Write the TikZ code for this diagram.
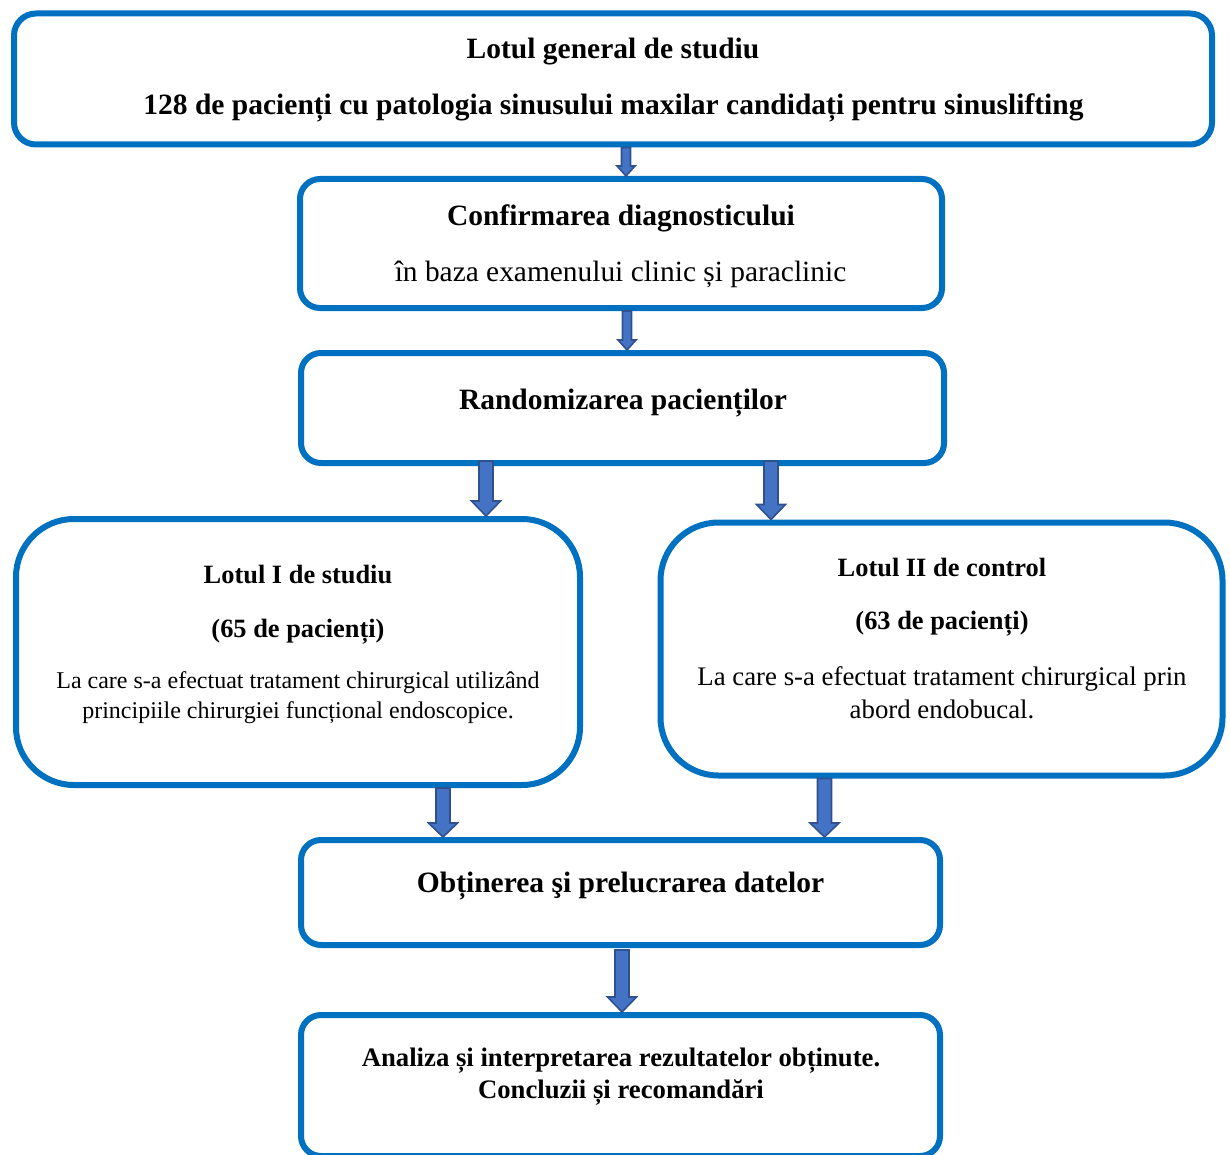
\documentclass[tikz,border=0pt]{standalone}
\usepackage{fontspec}
\setmainfont{Liberation Serif}
\usetikzlibrary{calc}
\definecolor{boxblue}{HTML}{0070C0}
\definecolor{arrfill}{HTML}{4472C4}
\definecolor{arredge}{HTML}{2F528F}
% block arrow: #1 start, #2 end (only y used), #3 shaft half width, #4 head half width, #5 head length
\newcommand\blockarrow[5]{%
  \path[barrow] let \p1=(#1), \p2=(#2) in
   (\x1-#3pt,\y1) -- (\x1+#3pt,\y1) -- (\x1+#3pt,\y2+#5pt) -- (\x1+#4pt,\y2+#5pt)
   -- (\x1,\y2) -- (\x1-#4pt,\y2+#5pt) -- (\x1-#3pt,\y2+#5pt) -- cycle;}
\begin{document}
\begin{tikzpicture}[x=1pt,y=-1pt,
  box/.style={draw=boxblue, line width=6pt, fill=white, inner sep=0pt},
  barrow/.style={fill=arrfill, draw=arredge, line width=1.6pt, line join=miter},
  tb/.style={anchor=base, inner sep=0pt, font=\fontsize{29.5}{34}\selectfont\bfseries},
  tr/.style={anchor=base, inner sep=0pt, font=\fontsize{29.4}{34}\selectfont},
  tmb/.style={anchor=base, inner sep=0pt, font=\fontsize{26.4}{31}\selectfont\bfseries},
  tlb/.style={anchor=base, inner sep=0pt, font=\fontsize{26.7}{31}\selectfont\bfseries},
  tsr/.style={anchor=base, inner sep=0pt, font=\fontsize{24}{29}\selectfont},
  tmr/.style={anchor=base, inner sep=0pt, font=\fontsize{26.8}{31}\selectfont},
]
\useasboundingbox (0,0) rectangle (1230,1155);

% boxes
\node[box, rounded corners=22pt, minimum width=1198pt, minimum height=131pt] (b1) at (613,79) {};
\node[box, rounded corners=20pt, minimum width=642pt, minimum height=129pt] (b2) at (621,243.5) {};
\node[box, rounded corners=20pt, minimum width=643pt, minimum height=110pt] (b3) at (622.5,408) {};
\node[box, rounded corners=58pt, minimum width=564pt, minimum height=266pt] (b4) at (298,652) {};
\node[box, rounded corners=58pt, minimum width=562pt, minimum height=253pt] (b5) at (941.5,649) {};
\node[box, rounded corners=20pt, minimum width=639pt, minimum height=105pt] (b6) at (620.5,892.5) {};
\node[box, rounded corners=20pt, minimum width=639pt, minimum height=141pt] (b7) at (620.5,1085.5) {};

% texts
\node[tb] (t1a) at (613,59) {Lotul general de studiu};
\node[tb] (t1b) at (613.5,115) {128 de pacienți cu patologia sinusului maxilar candidați pentru sinuslifting};
\node[tb] (t2a) at (621,226) {Confirmarea diagnosticului};
\node[tr] (t2b) at (620.5,282) {în baza examenului clinic și paraclinic};
\node[tb] (t3) at (623,409) {Randomizarea pacienților};
\node[tmb] (t4a) at (298,583) {Lotul I de studiu};
\node[tmb] (t4b) at (298,637) {(65 de pacienți)};
\node[tsr] (t4c) at (298,688) {La care s-a efectuat tratament chirurgical utilizând};
\node[tsr] (t4d) at (298,718) {principiile chirurgiei funcțional endoscopice.};
\node[tmb] (t5a) at (942,576) {Lotul II de control};
\node[tmb] (t5b) at (942,629) {(63 de pacienți)};
\node[tmr] (t5c) at (942,685) {La care s-a efectuat tratament chirurgical prin};
\node[tmr] (t5d) at (942,718) {abord endobucal.};
\node[tb] (t6) at (620.5,892) {Obținerea şi prelucrarea datelor};
\node[tlb] (t7a) at (621,1066) {Analiza și interpretarea rezultatelor obținute.};
\node[tlb] (t7b) at (621,1098) {Concluzii și recomandări};

% block arrows
\blockarrow{$(b1.south)+(13,0)$}{b2.north}{4.5}{9}{10}
\blockarrow{$(b2.south)+(6,0)$}{b3.north}{4.5}{9}{10}
\blockarrow{$(b3.south)+(-136.5,-5)$}{b4.north}{7}{14.5}{15}
\blockarrow{$(b3.south)+(148.5,-5)$}{b5.north}{7}{14.5}{15}
\blockarrow{$(b4.south)+(145,0)$}{b6.north}{7}{14.5}{14}
\blockarrow{$(b5.south)+(-117,0)$}{b6.north}{7}{14.5}{14}
\blockarrow{$(b6.south)+(1.5,2)$}{b7.north}{7}{14.5}{15}
\end{tikzpicture}
\end{document}
